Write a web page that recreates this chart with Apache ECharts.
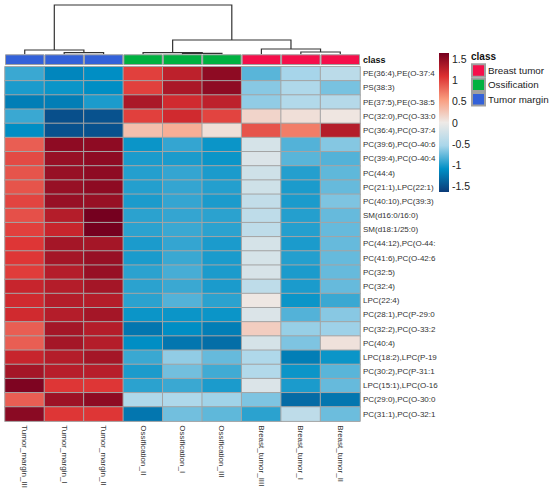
<!DOCTYPE html>
<html>
<head>
<meta charset="utf-8" />
<title>Lipid heatmap</title>
<style type="text/css">
html, body {margin:0;padding:0;background:#fff;}
#chart {width:550px;height:491px;}
</style>
</head>
<body>
<div id="chart"></div>
<script src="https://cdn.jsdelivr.net/npm/echarts@6/dist/echarts.min.js"></script>
<script type="text/javascript">
// columns in dendrogram order
const samples = ['Tumor_margin_III', 'Tumor_margin_I', 'Tumor_margin_II',
	'Ossification_II', 'Ossification_I', 'Ossification_III',
	'Breast_tumor_IIII', 'Breast_tumor_I', 'Breast_tumor_II'];
const sampleClass = [2, 2, 2, 1, 1, 1, 0, 0, 0];
const classNames = ['Breast tumor', 'Ossification', 'Tumor margin'];
const classColors = ['#f50f4b', '#00b140', '#3361d9'];

const lipids = ['PE(36:4),PE(O-37:4', 'PS(38:3)', 'PE(37:5),PE(O-38:5', 'PC(32:0),PC(O-33:0',
	'PC(36:4),PC(O-37:4', 'PC(39:6),PC(O-40:6', 'PC(39:4),PC(O-40:4', 'PC(44:4)',
	'PC(21:1),LPC(22:1)', 'PC(40:10),PC(39:3)', 'SM(d16:0/16:0)', 'SM(d18:1/25:0)',
	'PC(44:12),PC(O-44:', 'PC(41:6),PC(O-42:6', 'PC(32:5)', 'PC(32:4)', 'LPC(22:4)',
	'PC(28:1),PC(P-29:0', 'PC(32:2),PC(O-33:2', 'PC(40:4)', 'LPC(18:2),LPC(P-19',
	'PC(30:2),PC(P-31:1', 'LPC(15:1),LPC(O-16', 'PC(29:0),PC(O-30:0', 'PC(31:1),PC(O-32:1'];

// scaled values, one row per lipid, columns as in samples
const values = [
	[-0.90, -1.15, -1.10, 1.00, 1.25, 1.50, -0.80, -0.55, -0.40],
	[-1.00, -1.05, -1.10, 1.00, 1.35, 1.50, -0.65, -0.50, -0.70],
	[-1.20, -1.20, -1.00, 1.35, 1.15, 1.25, -0.62, -0.47, -0.45],
	[-0.90, -1.50, -1.48, 1.00, 1.15, 0.98, 0.15, 0.08, 0.03],
	[-1.10, -1.48, -1.48, 0.30, 0.42, 0.08, 0.90, 0.70, 1.30],
	[0.85, 1.50, 1.50, -1.05, -0.92, -1.05, -0.20, -0.82, -0.66],
	[0.95, 1.45, 1.50, -1.00, -1.00, -1.05, -0.15, -0.80, -0.82],
	[0.90, 1.45, 1.50, -0.97, -0.92, -1.00, -0.25, -0.97, -0.78],
	[0.90, 1.45, 1.50, -0.97, -0.92, -0.97, -0.25, -1.00, -0.76],
	[0.98, 1.45, 1.45, -1.00, -0.92, -1.00, -0.35, -1.00, -0.68],
	[0.92, 1.30, 1.63, -0.95, -0.92, -0.95, -0.38, -0.97, -0.76],
	[1.00, 1.20, 1.63, -0.95, -0.90, -0.95, -0.38, -0.97, -0.76],
	[1.05, 1.38, 1.38, -1.00, -0.92, -1.00, -0.20, -1.00, -0.76],
	[1.05, 1.38, 1.45, -1.00, -0.90, -1.00, -0.20, -0.97, -0.76],
	[1.02, 1.30, 1.45, -0.95, -0.86, -1.00, -0.18, -1.00, -0.76],
	[1.20, 1.30, 1.38, -0.95, -0.90, -1.00, -0.38, -1.00, -0.76],
	[1.15, 1.30, 1.30, -0.95, -0.82, -0.95, 0.02, -1.05, -0.90],
	[1.15, 1.30, 1.38, -1.05, -1.05, -1.05, -0.15, -0.82, -0.65],
	[0.85, 1.38, 1.30, -1.25, -1.10, -1.20, 0.20, -0.60, -0.58],
	[0.85, 1.38, 1.30, -1.10, -1.25, -1.30, -0.20, -0.68, 0.06],
	[1.20, 1.30, 1.38, -0.90, -0.62, -0.76, -0.50, -1.20, -1.05],
	[1.38, 1.28, 1.28, -1.00, -0.72, -0.88, -0.47, -1.05, -0.80],
	[1.58, 1.05, 1.05, -0.95, -0.90, -1.00, -0.15, -1.00, -0.76],
	[0.85, 1.42, 1.50, -0.50, -0.50, -0.57, -0.68, -1.32, -1.25],
	[1.52, 1.05, 1.05, -1.25, -0.72, -0.78, -0.95, -0.38, -0.74]
];

// hclust-style merges: negative = leaf (1-based column), positive = earlier merge (1-based)
const merge = [[-2, -3], [-1, 1], [-5, -6], [-4, 3], [-8, -9], [-7, 5], [4, 6], [2, 7]];
const mergeHeight = [1.6, 4.3, 1.0, 1.6, 2.3, 5.3, 14.3, 49.3];

const colorTicks = [-1.5, -1, -0.5, 0, 0.5, 1, 1.5];
const colorLimit = 1.63;
const palette = ['#0b3a78', '#0090c6', '#a9d6ea', '#eeeae7', '#f99c7e', '#dc2f31', '#75001f'];

const font = '"Liberation Sans", Arial, sans-serif';

//热图数据
const heatData = [];
values.forEach((row, r) => row.forEach((v, c) => heatData.push([c, r, v])));

//树状图：每个合并节点 -> [x1, x2, h, h1, h2]
const nodeX = [], links = [];
merge.forEach((m, i) => {
	const kid = k => k < 0 ? [-k - 1, 0] : [nodeX[k - 1], mergeHeight[k - 1]];
	const a = kid(m[0]), b = kid(m[1]);
	nodeX.push((a[0] + b[0]) / 2);
	links.push([a[0], b[0], mergeHeight[i], a[1], b[1]]);
});

//分组条
const classSeries = classNames.map((name, k) => ({
	name: name,
	type: 'bar',
	xAxisIndex: 1,
	yAxisIndex: 1,
	barGap: '-100%',
	barCategoryGap: 0,
	silent: true,
	itemStyle: {color: classColors[k], borderColor: '#a0a0a0', borderWidth: 1},
	data: sampleClass.map(c => c === k ? 1 : '-')
}));

const heatTop = 66.7, heatH = 357.6;
const barTop = 53, barH = 139;
const tickTop = barTop + barH * (colorLimit - 1.5) / (2 * colorLimit);
const tickH = barH * 3 / (2 * colorLimit);

const chart = echarts.init(document.getElementById('chart'), null, {renderer: 'svg'});
chart.setOption({
	animation: false,
	textStyle: {fontFamily: font},
	title: {
		text: 'class', left: 471, top: 51.5, padding: 0,
		textStyle: {fontSize: 10, fontWeight: 'bold', color: '#111', fontFamily: font}
	},
	legend: {
		orient: 'vertical', left: 471, top: 63.3, padding: 0,
		itemWidth: 13, itemHeight: 12.4, itemGap: 0,
		icon: 'rect',
		data: classNames,
		selectedMode: false,
		textStyle: {fontSize: 9.8, color: '#222', padding: [0, 0, 0, -2]}
	},
	grid: [
		{left: 5, top: 5, width: 355, height: 49.3},
		{left: 5, top: 54.3, width: 355, height: 10.7},
		{left: 5, top: heatTop, width: 355, height: heatH},
		{left: 439, top: tickTop, width: 10, height: tickH}
	],
	xAxis: [
		{gridIndex: 0, type: 'value', min: -0.5, max: samples.length - 0.5, show: false},
		{gridIndex: 1, type: 'category', data: samples, show: false},
		{
			gridIndex: 2, type: 'category', data: samples, position: 'bottom',
			axisLine: {show: false}, axisTick: {show: false}, splitArea: {show: false},
			axisLabel: {interval: 0, rotate: -90, margin: 4, fontSize: 8, color: '#333'}
		},
		{gridIndex: 3, type: 'value', show: false}
	],
	yAxis: [
		{gridIndex: 0, type: 'value', min: 0, max: mergeHeight[mergeHeight.length - 1], show: false},
		{gridIndex: 1, type: 'value', min: 0, max: 1, show: false},
		{
			gridIndex: 2, type: 'category', data: lipids, inverse: true, position: 'right',
			axisLine: {show: false}, axisTick: {show: false}, splitArea: {show: false},
			axisLabel: {interval: 0, margin: 3, fontSize: 8, color: '#333'}
		},
		{
			gridIndex: 3, type: 'value', min: colorTicks[0], max: colorTicks[colorTicks.length - 1],
			interval: 0.5, position: 'right',
			axisLine: {show: false}, axisTick: {show: false}, splitLine: {show: false},
			axisLabel: {margin: 3, fontSize: 10.5, color: '#222'}
		},
		{
			gridIndex: 1, type: 'category', data: ['class'], position: 'right',
			axisLine: {show: false}, axisTick: {show: false},
			axisLabel: {margin: 3, fontSize: 9, fontWeight: 'bold', color: '#111'}
		}
	],
	visualMap: {
		show: false, type: 'continuous', seriesIndex: 0,
		min: -colorLimit, max: colorLimit,
		inRange: {color: palette}
	},
	graphic: [{
		type: 'rect', left: 439, top: barTop, silent: true,
		shape: {width: 10, height: barH},
		style: {
			fill: new echarts.graphic.LinearGradient(0, 1, 0, 0,
				palette.map((c, i) => ({offset: i / (palette.length - 1), color: c})))
		}
	}],
	series: [{
		type: 'heatmap',
		xAxisIndex: 2,
		yAxisIndex: 2,
		silent: true,
		itemStyle: {borderColor: '#a4a4a4', borderWidth: 1},
		emphasis: {disabled: true},
		data: heatData
	}, {
		type: 'custom',
		xAxisIndex: 0,
		yAxisIndex: 0,
		silent: true,
		data: links,
		renderItem: (params, api) => {
			const p0 = api.coord([api.value(0), api.value(3)]);
			const p1 = api.coord([api.value(0), api.value(2)]);
			const p2 = api.coord([api.value(1), api.value(2)]);
			const p3 = api.coord([api.value(1), api.value(4)]);
			return {
				type: 'polyline',
				shape: {points: [p0, p1, p2, p3]},
				style: {stroke: '#333', lineWidth: 1.2, fill: 'none'}
			};
		}
	}].concat(classSeries)
});
</script>
</body>
</html>
